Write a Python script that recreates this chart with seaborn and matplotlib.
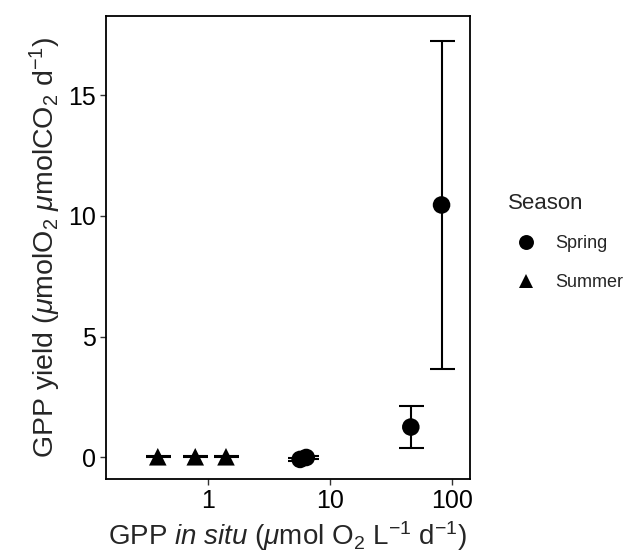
import matplotlib
matplotlib.use("Agg")
import matplotlib.pyplot as plt
import seaborn as sns
import pandas as pd
import numpy as np
from matplotlib.ticker import FixedLocator, FixedFormatter, NullLocator

# ---- data ----
season = ["Summer", "Summer", "Summer", "Spring", "Spring", "Spring", "Spring"]
gpp_insitu = [0.39, 0.79, 1.41, 5.7, 6.4, 45.9, 81.9]
gpp_yield = [0.03, 0.03, 0.03, -0.08, 0.0, 1.26, 10.45]
yield_err = [0.02, 0.02, 0.02, 0.06, 0.05, 0.88, 6.8]

x_ticks = [1, 10, 100]
x_tick_labels = ["1", "10", "100"]
y_ticks = [0, 5, 10, 15]
y_tick_labels = ["0", "5", "10", "15"]

df = pd.DataFrame({"Season": season, "GPP_insitu": gpp_insitu,
                   "GPP_yield": gpp_yield, "err": yield_err})

sns.set_theme(style="white")
plt.rcParams["font.family"] = ["Liberation Sans", "DejaVu Sans"]
plt.rcParams["mathtext.fontset"] = "custom"
plt.rcParams["mathtext.rm"] = "Liberation Sans"
plt.rcParams["mathtext.it"] = "Liberation Sans:italic"
plt.rcParams["mathtext.bf"] = "Liberation Sans:bold"

fig = plt.figure(figsize=(6.3, 5.58), dpi=100)
ax = fig.add_axes([106/630, 1-479/558, (470-106)/630, (479-16)/558])

ax.set_xscale("log")
ax.errorbar(df["GPP_insitu"], df["GPP_yield"], yerr=df["err"], fmt="none",
            ecolor="black", elinewidth=1.5, capsize=9, capthick=1.5, zorder=2)
sns.scatterplot(data=df, x="GPP_insitu", y="GPP_yield", style="Season",
                style_order=["Spring", "Summer"],
                markers={"Spring": "o", "Summer": "^"}, color="black",
                s=160, edgecolor="none", linewidth=0, ax=ax, zorder=3)

ax.set_xlim(0.147, 140)
ax.set_ylim(-0.89, 18.27)
ax.xaxis.set_major_locator(FixedLocator(x_ticks))
ax.xaxis.set_major_formatter(FixedFormatter(x_tick_labels))
ax.xaxis.set_minor_locator(NullLocator())
ax.set_yticks(y_ticks)
ax.set_yticklabels(y_tick_labels)

for sp in ax.spines.values():
    sp.set_visible(True)
    sp.set_color("black")
    sp.set_linewidth(1.3)

ax.tick_params(axis="both", which="major", direction="out", length=4,
               width=1.0, color="#333333", labelsize=18, labelcolor="black",
               pad=3, bottom=True, left=True)

ax.set_xlabel(r"GPP $\mathit{in\ situ}$ ($\mathit{\mu}$mol O$_2$ L$^{-1}$ d$^{-1}$)",
              fontsize=20, labelpad=5)
ax.set_ylabel(r"GPP yield ($\mathit{\mu}$molO$_2$ $\mathit{\mu}$molCO$_2$ d$^{-1}$)",
              fontsize=20.5, labelpad=4)

leg = ax.legend(title="Season", loc="center left",
                bbox_to_anchor=(1.085, 0.512), frameon=False, fontsize=13,
                title_fontsize=16, markerscale=0.85, handletextpad=0.6,
                labelspacing=1.2, borderaxespad=0)
leg._legend_box.align = "left"
for h in leg.legend_handles:
    h.set_color("black")

fig.savefig("out.png", dpi=100)
